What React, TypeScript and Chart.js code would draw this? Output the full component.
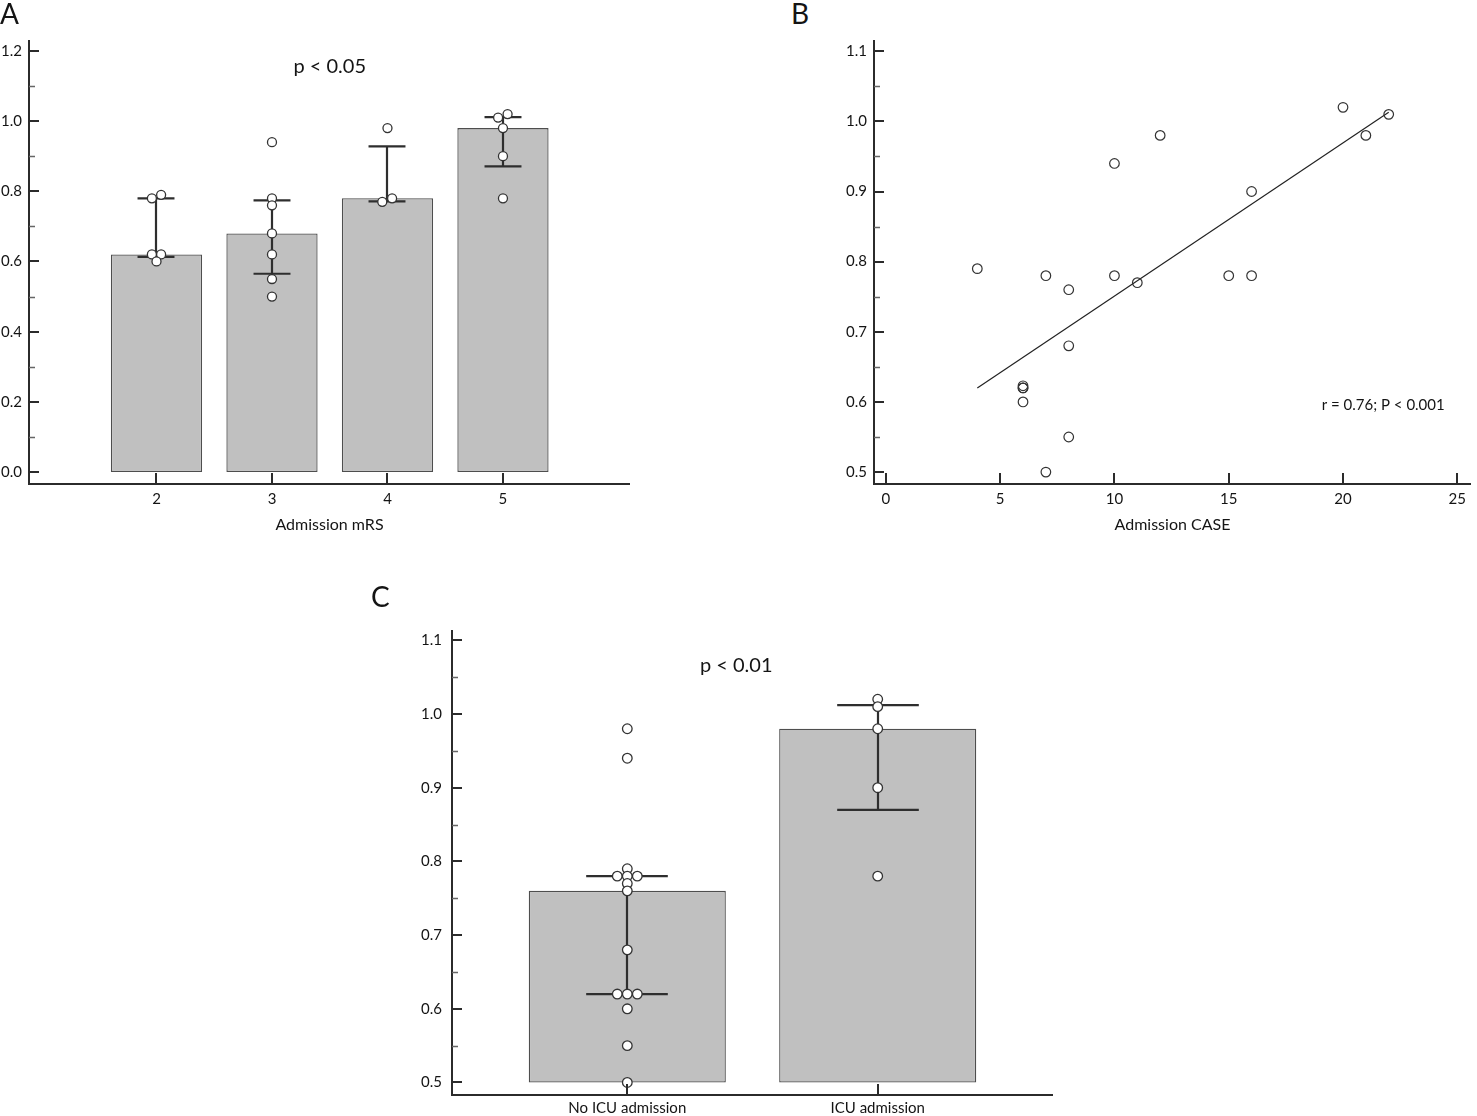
import React, { useEffect, useRef } from "react";
import { Chart, registerables, Plugin, ChartConfiguration } from "chart.js";

Chart.register(...registerables);

const FONT = 'Lato, "Open Sans", sans-serif';
const AXIS = "#2b2b2b";
const TEXT = "#141414";
const BAR_FILL = "#c0c0c0";
const BAR_EDGE = "#4e4e4e";

// Panel A: ratio by admission mRS
const mrsLevels = [2, 3, 4, 5];
const mrsMeans = [0.62, 0.68, 0.78, 0.98];
const mrsErrLow = [0.613, 0.565, 0.771, 0.871];
const mrsErrHigh = [0.78, 0.774, 0.928, 1.011];
const mrsPointLevel = [2, 2, 2, 2, 2, 3, 3, 3, 3, 3, 3, 3, 4, 4, 4, 5, 5, 5, 5, 5];
const mrsPointValue = [0.78, 0.79, 0.62, 0.62, 0.6, 0.94, 0.78, 0.76, 0.68, 0.62, 0.55, 0.5, 0.98, 0.77, 0.78, 1.01, 1.02, 0.98, 0.9, 0.78];
const mrsPointJitter = [-0.04, 0.04, -0.04, 0.04, 0, 0, 0, 0, 0, 0, 0, 0, 0, -0.045, 0.04, -0.042, 0.04, 0, 0, 0];
const mrsYTicks = [0, 0.2, 0.4, 0.6, 0.8, 1.0, 1.2];
const mrsYMinor = [0.1, 0.3, 0.5, 0.7, 0.9, 1.1];

// Panel B: ratio vs admission CASE
const caseScore = [4, 7, 8, 8, 6, 6, 6, 6, 8, 7, 10, 10, 11, 12, 15, 16, 16, 20, 21, 22];
const caseRatio = [0.79, 0.78, 0.76, 0.68, 0.62, 0.62, 0.623, 0.6, 0.55, 0.5, 0.94, 0.78, 0.77, 0.98, 0.78, 0.9, 0.78, 1.02, 0.98, 1.01];
const fitLineX = [4, 22];
const fitLineY = [0.62, 1.013];
const caseXTicks = [0, 5, 10, 15, 20, 25];
const ratioTicks = [0.5, 0.6, 0.7, 0.8, 0.9, 1.0, 1.1];
const ratioMinor = [0.55, 0.65, 0.75, 0.85, 0.95, 1.05];

// Panel C: ratio by ICU admission
const icuGroups = ["No ICU admission", "ICU admission"];
const icuMeans = [0.76, 0.98];
const icuErrLow = [0.62, 0.87];
const icuErrHigh = [0.78, 1.012];
const icuPointGroup = [0, 0, 0, 0, 0, 0, 0, 0, 0, 0, 0, 0, 0, 0, 0, 1, 1, 1, 1, 1];
const icuPointValue = [0.98, 0.94, 0.79, 0.78, 0.78, 0.78, 0.77, 0.76, 0.68, 0.62, 0.62, 0.62, 0.6, 0.55, 0.5, 1.02, 1.01, 0.98, 0.9, 0.78];
const icuPointJitter = [0, 0, 0, -0.04, 0, 0.04, 0, 0, 0, -0.04, 0, 0.04, 0, 0, 0, 0, 0, 0, 0, 0];

const tickFont = { family: FONT, size: 15 };

// axis lines and inward tick marks
const axisFrame: Plugin = {
  id: "axisFrame",
  afterDraw(chart, _args, opts: any) {
    const { ctx, chartArea: a } = chart;
    const x = chart.scales.x;
    const y = chart.scales.y;
    ctx.save();
    ctx.strokeStyle = AXIS;
    ctx.lineWidth = 2;
    ctx.lineJoin = "miter";
    ctx.beginPath();
    ctx.moveTo(a.left, a.top);
    ctx.lineTo(a.left, a.bottom);
    ctx.lineTo(a.right, a.bottom);
    ctx.stroke();
    ctx.beginPath();
    (opts.yMajor || []).forEach((v: number) => {
      const p = Math.round(y.getPixelForValue(v));
      ctx.moveTo(a.left, p);
      ctx.lineTo(a.left + 10, p);
    });
    (opts.xMajor || []).forEach((v: number) => {
      const p = Math.round(x.getPixelForValue(v));
      ctx.moveTo(p, a.bottom);
      ctx.lineTo(p, a.bottom - 11);
    });
    ctx.stroke();
    ctx.strokeStyle = "#666";
    ctx.lineWidth = 1.3;
    ctx.beginPath();
    (opts.yMinor || []).forEach((v: number) => {
      const p = Math.round(y.getPixelForValue(v)) + 0.5;
      ctx.moveTo(a.left, p);
      ctx.lineTo(a.left + 6, p);
    });
    ctx.stroke();
    ctx.restore();
  },
};

const errorBars: Plugin = {
  id: "errorBars",
  afterDatasetDraw(chart, args, opts: any) {
    if (args.index !== 0 || !opts.x) return;
    const { ctx } = chart;
    const x = chart.scales.x;
    const y = chart.scales.y;
    ctx.save();
    ctx.strokeStyle = "#2e2e2e";
    ctx.lineWidth = 2.2;
    ctx.beginPath();
    opts.x.forEach((xv: number, i: number) => {
      const px = Math.round(x.getPixelForValue(xv));
      const hw = x.getPixelForValue(xv + opts.cap) - x.getPixelForValue(xv);
      const lo = y.getPixelForValue(opts.low[i]);
      const hi = y.getPixelForValue(opts.high[i]);
      ctx.moveTo(px, lo);
      ctx.lineTo(px, hi);
      ctx.moveTo(px - hw, lo);
      ctx.lineTo(px + hw, lo);
      ctx.moveTo(px - hw, hi);
      ctx.lineTo(px + hw, hi);
    });
    ctx.stroke();
    ctx.restore();
  },
};

const annotations: Plugin = {
  id: "annotations",
  afterDraw(chart, _args, opts: any) {
    const { ctx } = chart;
    (opts.items || []).forEach((it: any) => {
      ctx.save();
      ctx.font = `${it.size}px ${FONT}`;
      ctx.fillStyle = TEXT;
      ctx.textAlign = it.align || "center";
      ctx.textBaseline = "middle";
      ctx.fillText(it.text, chart.scales.x.getPixelForValue(it.x), chart.scales.y.getPixelForValue(it.y));
      ctx.restore();
    });
  },
};

function yAxis(min: number, max: number, values: number[], width: number, pad: number) {
  return {
    type: "linear" as const,
    position: "left" as const,
    min,
    max,
    grid: { display: false, drawTicks: false },
    border: { display: false },
    afterBuildTicks: (s: any) => {
      s.ticks = values.map((value) => ({ value }));
    },
    afterFit: (s: any) => {
      s.width = width;
      s.paddingTop = 0;
      s.paddingBottom = 0;
    },
    ticks: { color: TEXT, font: tickFont, padding: pad, callback: (v: any) => Number(v).toFixed(1) },
  };
}

function xAxis(min: number, max: number, values: number[], label: (v: number) => string, height: number, pad: number, title?: string) {
  return {
    type: "linear" as const,
    position: "bottom" as const,
    min,
    max,
    offset: false,
    grid: { display: false, drawTicks: false, offset: false },
    border: { display: false },
    afterBuildTicks: (s: any) => {
      s.ticks = values.map((value) => ({ value }));
    },
    afterFit: (s: any) => {
      s.height = height;
      s.paddingLeft = 0;
      s.paddingRight = 0;
    },
    ticks: { color: TEXT, font: tickFont, padding: pad, maxRotation: 0, autoSkip: false, callback: (v: any) => label(Number(v)) },
    title: title
      ? { display: true, text: title, color: TEXT, font: { family: FONT, size: 16 }, padding: { top: 0, bottom: 6 } }
      : { display: false },
  };
}

const baseOptions = {
  responsive: false,
  animation: false as const,
  events: [] as any[],
};

function buildA(): ChartConfiguration {
  return {
    type: "bar",
    data: {
      datasets: [
        {
          type: "bar",
          data: mrsLevels.map((x, i) => ({ x, y: mrsMeans[i] })) as any,
          backgroundColor: BAR_FILL,
          borderColor: BAR_EDGE,
          borderWidth: 1.3,
          borderSkipped: false,
          barPercentage: 0.79,
          categoryPercentage: 1,
          order: 3,
        },
        {
          type: "scatter",
          data: mrsPointValue.map((y, i) => ({ x: mrsPointLevel[i] + mrsPointJitter[i], y })),
          pointRadius: 4.5,
          pointBackgroundColor: "#fff",
          pointBorderColor: "#333",
          pointBorderWidth: 1.3,
          order: 1,
        } as any,
      ],
    },
    options: {
      ...baseOptions,
      layout: { padding: { top: 40, right: 10, left: 0, bottom: 0 } },
      plugins: {
        legend: { display: false },
        tooltip: { enabled: false },
        errorBars: { x: mrsLevels, low: mrsErrLow, high: mrsErrHigh, cap: 0.16 },
        axisFrame: { yMajor: mrsYTicks, yMinor: mrsYMinor, xMajor: mrsLevels },
        annotations: { items: [{ text: "p < 0.05", x: 3.5, y: 1.154, size: 20 }] },
      } as any,
      scales: {
        x: xAxis(0.896, 6.1, mrsLevels, (v) => String(v), 56, 6, "Admission mRS") as any,
        y: yAxis(-0.034, 1.231, mrsYTicks, 29, 7) as any,
      },
    },
    plugins: [errorBars, axisFrame, annotations],
  };
}

function buildB(): ChartConfiguration {
  return {
    type: "scatter",
    data: {
      datasets: [
        {
          type: "scatter",
          data: caseScore.map((x, i) => ({ x, y: caseRatio[i] })),
          pointRadius: 4.8,
          pointBackgroundColor: "rgba(255,255,255,0)",
          pointBorderColor: "#333",
          pointBorderWidth: 1.2,
          order: 1,
        },
        {
          type: "line",
          data: fitLineX.map((x, i) => ({ x, y: fitLineY[i] })),
          borderColor: "#222",
          borderWidth: 1.2,
          pointRadius: 0,
          fill: false,
          order: 2,
        } as any,
      ],
    },
    options: {
      ...baseOptions,
      layout: { padding: { top: 40, right: 1, left: 0, bottom: 0 } },
      plugins: {
        legend: { display: false },
        tooltip: { enabled: false },
        axisFrame: { yMajor: ratioTicks, yMinor: ratioMinor, xMajor: caseXTicks },
        annotations: { items: [{ text: "r = 0.76; P < 0.001", x: 19.07, y: 0.595, size: 15, align: "left" }] },
      } as any,
      scales: {
        x: xAxis(-0.52, 25.6, caseXTicks, (v) => String(v), 56, 6, "Admission CASE") as any,
        y: yAxis(0.483, 1.116, ratioTicks, 34, 7) as any,
      },
    },
    plugins: [axisFrame, annotations],
  };
}

function buildC(): ChartConfiguration {
  return {
    type: "bar",
    data: {
      datasets: [
        {
          type: "bar",
          data: icuMeans.map((y, i) => ({ x: i, y })) as any,
          base: 0.5,
          backgroundColor: BAR_FILL,
          borderColor: BAR_EDGE,
          borderWidth: 1.3,
          borderSkipped: false,
          barPercentage: 0.787,
          categoryPercentage: 1,
          order: 3,
        } as any,
        {
          type: "scatter",
          data: icuPointValue.map((y, i) => ({ x: icuPointGroup[i] + icuPointJitter[i], y })),
          pointRadius: 4.8,
          pointBackgroundColor: "#fff",
          pointBorderColor: "#333",
          pointBorderWidth: 1.3,
          order: 1,
        } as any,
      ],
    },
    options: {
      ...baseOptions,
      layout: { padding: { top: 50, right: 7, left: 0, bottom: 0 } },
      plugins: {
        legend: { display: false },
        tooltip: { enabled: false },
        errorBars: { x: [0, 1], low: icuErrLow, high: icuErrHigh, cap: 0.163 },
        axisFrame: { yMajor: ratioTicks, yMinor: ratioMinor, xMajor: [0, 1] },
        annotations: { items: [{ text: "p < 0.01", x: 0.435, y: 1.066, size: 20 }] },
      } as any,
      scales: {
        x: xAxis(-0.7, 1.7, [0, 1], (v) => icuGroups[v] ?? "", 21, 4) as any,
        y: yAxis(0.483, 1.114, ratioTicks, 92, 10) as any,
      },
    },
    plugins: [errorBars, axisFrame, annotations],
  };
}

function ChartPanel({ left, top, width, height, build }: { left: number; top: number; width: number; height: number; build: () => ChartConfiguration }) {
  const ref = useRef<HTMLCanvasElement>(null);

  useEffect(() => {
    const ctx = ref.current?.getContext("2d");
    if (!ctx) return;
    const chart = new Chart(ctx, build());
    return () => chart.destroy();
  }, []);

  return (
    <canvas
      ref={ref}
      width={width}
      height={height}
      style={{ position: "absolute", left, top, width, height }}
    />
  );
}

const letterStyle: React.CSSProperties = {
  position: "absolute",
  fontFamily: FONT,
  fontSize: 28,
  lineHeight: "28px",
  color: TEXT,
};

export default function App() {
  return (
    <div style={{ position: "absolute", left: 0, top: 0, width: 1477, height: 1116, background: "#fff", overflow: "hidden" }}>
      <ChartPanel left={0} top={0} width={640} height={540} build={buildA} />
      <ChartPanel left={840} top={0} width={637} height={540} build={buildB} />
      <ChartPanel left={360} top={580} width={700} height={536} build={buildC} />
      <div style={{ ...letterStyle, left: 0, top: -1 }}>A</div>
      <div style={{ ...letterStyle, left: 791, top: -1 }}>B</div>
      <div style={{ ...letterStyle, left: 371, top: 582 }}>C</div>
    </div>
  );
}
